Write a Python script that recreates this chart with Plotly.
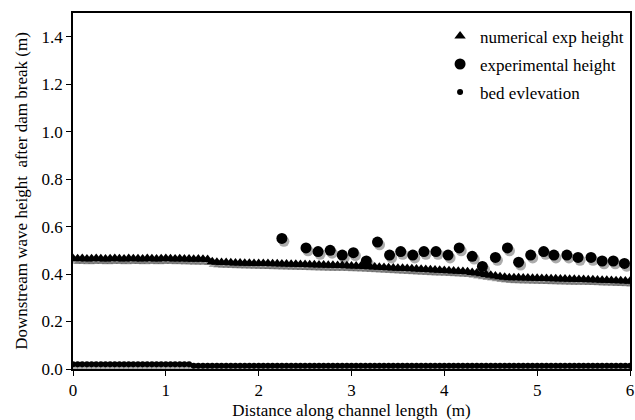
import plotly.graph_objects as go

# Sampling stations along the channel (m)
distance = [
    0.00, 0.05, 0.10, 0.15, 0.20, 0.25, 0.30, 0.35, 0.40, 0.45,
    0.50, 0.55, 0.60, 0.65, 0.70, 0.75, 0.80, 0.85, 0.90, 0.95,
    1.00, 1.05, 1.10, 1.15, 1.20, 1.25, 1.30, 1.35, 1.40, 1.45,
    1.50, 1.55, 1.60, 1.65, 1.70, 1.75, 1.80, 1.85, 1.90, 1.95,
    2.00, 2.05, 2.10, 2.15, 2.20, 2.25, 2.30, 2.35, 2.40, 2.45,
    2.50, 2.55, 2.60, 2.65, 2.70, 2.75, 2.80, 2.85, 2.90, 2.95,
    3.00, 3.05, 3.10, 3.15, 3.20, 3.25, 3.30, 3.35, 3.40, 3.45,
    3.50, 3.55, 3.60, 3.65, 3.70, 3.75, 3.80, 3.85, 3.90, 3.95,
    4.00, 4.05, 4.10, 4.15, 4.20, 4.25, 4.30, 4.35, 4.40, 4.45,
    4.50, 4.55, 4.60, 4.65, 4.70, 4.75, 4.80, 4.85, 4.90, 4.95,
    5.00, 5.05, 5.10, 5.15, 5.20, 5.25, 5.30, 5.35, 5.40, 5.45,
    5.50, 5.55, 5.60, 5.65, 5.70, 5.75, 5.80, 5.85, 5.90, 5.95,
    6.00,
]

# Numerically computed downstream wave height (m)
numerical_height = [
    0.466, 0.465, 0.466, 0.464, 0.465, 0.466, 0.465, 0.464, 0.465, 0.466,
    0.465, 0.464, 0.466, 0.465, 0.465, 0.464, 0.466, 0.465, 0.464, 0.465,
    0.466, 0.465, 0.464, 0.465, 0.463, 0.464, 0.462, 0.463, 0.462, 0.461,
    0.452, 0.450, 0.449, 0.449, 0.448, 0.447, 0.447, 0.446, 0.446, 0.445,
    0.445, 0.444, 0.444, 0.443, 0.443, 0.442, 0.442, 0.441, 0.441, 0.440,
    0.440, 0.439, 0.439, 0.438, 0.438, 0.437, 0.437, 0.436, 0.436, 0.435,
    0.434, 0.434, 0.433, 0.432, 0.431, 0.430, 0.429, 0.428, 0.427, 0.426,
    0.425, 0.424, 0.423, 0.422, 0.421, 0.420, 0.419, 0.418, 0.417, 0.416,
    0.415, 0.414, 0.413, 0.412, 0.411, 0.410, 0.407, 0.404, 0.401, 0.398,
    0.395, 0.392, 0.389, 0.387, 0.385, 0.384, 0.384, 0.383, 0.383, 0.382,
    0.382, 0.381, 0.381, 0.380, 0.380, 0.379, 0.379, 0.378, 0.378, 0.377,
    0.377, 0.376, 0.376, 0.375, 0.374, 0.374, 0.373, 0.372, 0.372, 0.371,
    0.370,
]

# Channel bed elevation (m)
bed_elevation = [
    0.020, 0.020, 0.020, 0.020, 0.020, 0.020, 0.020, 0.020, 0.020, 0.020,
    0.020, 0.020, 0.020, 0.020, 0.020, 0.020, 0.020, 0.020, 0.020, 0.020,
    0.020, 0.020, 0.020, 0.020, 0.020, 0.020, 0.014, 0.014, 0.014, 0.014,
    0.014, 0.014, 0.014, 0.014, 0.014, 0.014, 0.014, 0.014, 0.014, 0.014,
    0.014, 0.014, 0.014, 0.014, 0.014, 0.014, 0.014, 0.014, 0.014, 0.014,
    0.014, 0.014, 0.014, 0.014, 0.014, 0.014, 0.014, 0.014, 0.014, 0.014,
    0.014, 0.014, 0.014, 0.014, 0.014, 0.014, 0.014, 0.014, 0.014, 0.014,
    0.014, 0.014, 0.014, 0.014, 0.014, 0.014, 0.014, 0.014, 0.014, 0.014,
    0.014, 0.014, 0.014, 0.014, 0.014, 0.014, 0.014, 0.014, 0.014, 0.014,
    0.014, 0.014, 0.014, 0.014, 0.014, 0.014, 0.014, 0.014, 0.014, 0.014,
    0.014, 0.014, 0.014, 0.014, 0.014, 0.014, 0.014, 0.014, 0.014, 0.014,
    0.014, 0.014, 0.014, 0.014, 0.014, 0.014, 0.014, 0.014, 0.014, 0.014,
    0.014,
]

# Measured wave heights from the flume experiment
exp_distance = [
    2.25, 2.51, 2.64, 2.77, 2.90, 3.02, 3.16, 3.28, 3.41, 3.53,
    3.66, 3.78, 3.91, 4.04, 4.16, 4.30, 4.41, 4.55, 4.68, 4.80,
    4.93, 5.07, 5.18, 5.32, 5.44, 5.58, 5.70, 5.82, 5.94,
]
exp_height = [
    0.550, 0.510, 0.495, 0.500, 0.480, 0.490, 0.455, 0.535, 0.480, 0.495,
    0.480, 0.495, 0.495, 0.480, 0.510, 0.475, 0.432, 0.470, 0.510, 0.450,
    0.480, 0.495, 0.480, 0.480, 0.470, 0.470, 0.455, 0.455, 0.445,
]

FONT = "'Liberation Serif', 'Times New Roman', serif"
SIZE = 17
SHADOW = "rgba(70,70,70,0.45)"
SHIFT_X, SHIFT_Y = 0.022, -0.012

series = [
    ("numerical exp height", distance, numerical_height, "triangle-up", 10),
    ("experimental height", exp_distance, exp_height, "circle", 11),
    ("bed evlevation", distance, bed_elevation, "circle", 6),
]

fig = go.Figure()

# soft drop shadows underneath each marker set
for name, xs, ys, sym, size in series:
    fig.add_trace(go.Scatter(
        x=[v + SHIFT_X for v in xs], y=[v + SHIFT_Y for v in ys],
        mode="markers", showlegend=False, hoverinfo="skip",
        marker=dict(symbol=sym, size=size, color=SHADOW, line=dict(width=0)),
    ))

for i, (name, xs, ys, sym, size) in enumerate(series):
    fig.add_trace(go.Scatter(
        x=xs, y=ys, name=name, mode="markers", legendgroup=f"g{i}",
        marker=dict(symbol=sym, size=size, color="black", line=dict(width=0)),
    ))

txt = dict(family=FONT, size=SIZE, color="black")

fig.update_layout(
    width=635, height=420,
    margin=dict(l=73, r=5, t=13, b=51),
    paper_bgcolor="white", plot_bgcolor="white",
    font=txt,
    legend=dict(
        x=0.659, y=0.985, xanchor="left", yanchor="top",
        bgcolor="rgba(0,0,0,0)", font=txt,
        tracegroupgap=3, traceorder="grouped", itemwidth=30,
    ),
    xaxis=dict(
        range=[0, 6], dtick=1, tick0=0, tickfont=txt, ticklabelstandoff=0,
        showline=True, linecolor="black", linewidth=1.5, mirror=True,
        ticks="outside", ticklen=5, tickcolor="black",
        showgrid=False, zeroline=False, automargin=False,
        title=dict(text="Distance along channel length  (m)", standoff=20, font=txt),
    ),
    yaxis=dict(
        range=[0, 1.5], dtick=0.2, tick0=0, tickformat=".1f", tickfont=txt,
        showline=True, linecolor="black", linewidth=1.5, mirror=True,
        ticks="outside", ticklen=5, tickcolor="black",
        showgrid=False, zeroline=False, automargin=False,
        title=dict(text="Downstream wave height  after dam break (m)", standoff=10, font=txt),
    ),
)

fig.write_html("out.html")
